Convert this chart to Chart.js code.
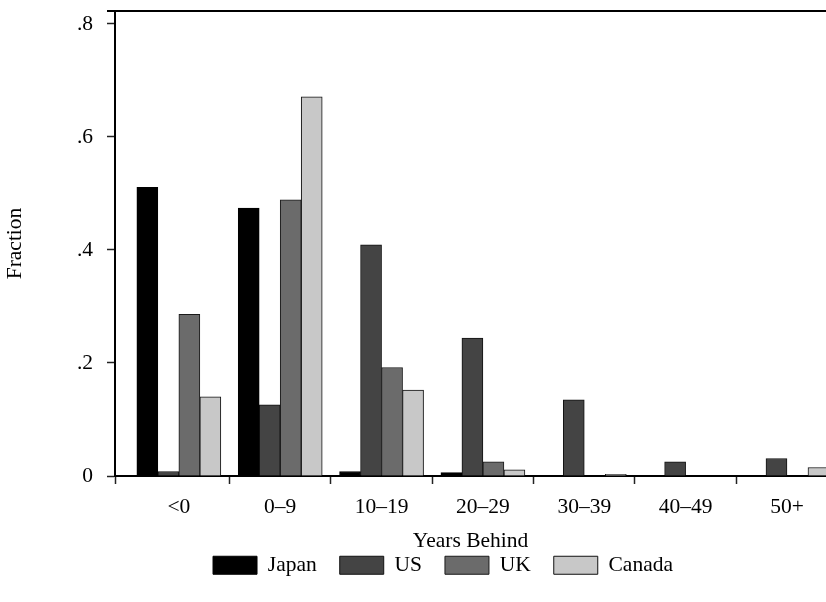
<!DOCTYPE html>
<html>
<head>
<meta charset="utf-8">
<script src="https://cdn.jsdelivr.net/npm/chart.js@4/dist/chart.umd.min.js"></script>
<style>
  html, body { margin: 0; padding: 0; background: #fff; overflow: hidden; }
  #c { display: block; }
</style>
</head>
<body>
<canvas id="c" width="826" height="602" style="width:826px;height:602px"></canvas>
<script>
// ---- data ----
const categories = ['<0', '0\u20139', '10\u201319', '20\u201329', '30\u201339', '40\u201349', '50+'];
const japan  = [0.511, 0.474, 0.008, 0.006, 0,     0,     0];
const us     = [0.008, 0.126, 0.409, 0.244, 0.135, 0.025, 0.031];
const uk     = [0.286, 0.489, 0.192, 0.025, 0,     0,     0];
const canada = [0.140, 0.671, 0.152, 0.011, 0.003, 0,     0.015];
const yTickValues = [0, 0.2, 0.4, 0.6, 0.8];
const yTickLabels = ['0', '.2', '.4', '.6', '.8'];
const xBoundaries = [0.5, 1.5, 2.5, 3.5, 4.5, 5.5];

const FONT = 'Liberation Serif';
const X_MIN = -0.63, X_MAX = 6.385;

function pts(arr) { return arr.map((v, i) => ({ x: i, y: v })); }

const topLine = {
  id: 'topLine',
  afterLayout(chart) {
    if (chart.legend) { chart.legend.left += 30; chart.legend.right += 30; }
  },
  afterDraw(chart) {
    const { ctx, chartArea } = chart;
    ctx.save();
    ctx.strokeStyle = '#000';
    ctx.lineWidth = 2;
    ctx.beginPath();
    ctx.moveTo(chartArea.left - 8, chartArea.top);
    ctx.lineTo(chart.width, chartArea.top);
    ctx.stroke();
    ctx.restore();
  }
};

const common = { borderWidth: 1, barThickness: 21, borderSkipped: 'start' };

new Chart(document.getElementById('c'), {
  type: 'bar',
  data: {
    datasets: [
      { label: 'Japan',  data: pts(japan),  backgroundColor: '#000000', borderColor: '#000000', ...common },
      { label: 'US',     data: pts(us),     backgroundColor: '#444444', borderColor: '#111111', ...common },
      { label: 'UK',     data: pts(uk),     backgroundColor: '#6b6b6b', borderColor: '#1a1a1a', ...common },
      { label: 'Canada', data: pts(canada), backgroundColor: '#c8c8c8', borderColor: '#111111', ...common }
    ]
  },
  options: {
    responsive: false,
    animation: false,
    devicePixelRatio: 1,
    layout: { padding: { top: 11, right: 0, left: 0, bottom: 16 } },
    plugins: {
      legend: {
        position: 'bottom',
        labels: {
          font: { family: FONT, size: 21.5 },
          color: '#000',
          boxWidth: 44,
          boxHeight: 18,
          padding: 23
        }
      },
      tooltip: { enabled: false }
    },
    scales: {
      x: {
        type: 'linear',
        min: X_MIN,
        max: X_MAX,
        offset: false,
        afterBuildTicks(scale) {
          const vals = [X_MIN];
          categories.forEach((c, i) => { vals.push(i); if (i < xBoundaries.length) vals.push(xBoundaries[i]); });
          scale.ticks = vals.map(v => ({ value: v }));
        },
        afterFit(scale) { scale.height = 55.5; scale.paddingLeft = 0; scale.paddingRight = 0; },
        ticks: {
          autoSkip: false,
          maxRotation: 0,
          padding: 10,
          color: '#000',
          font: { family: FONT, size: 21.5 },
          callback(value) { return Number.isInteger(value) ? categories[value] : ''; }
        },
        grid: {
          offset: false,
          drawOnChartArea: false,
          drawTicks: true,
          tickLength: 8,
          tickWidth: 1.5,
          tickColor(ctx) { return (ctx.tick && Number.isInteger(ctx.tick.value)) ? 'rgba(0,0,0,0)' : '#222'; }
        },
        border: { display: true, color: '#000', width: 2 },
        title: {
          display: true,
          text: 'Years Behind',
          color: '#000',
          font: { family: FONT, size: 21.5 },
          padding: { top: 0, bottom: -23 }
        }
      },
      y: {
        min: 0,
        max: 0.823,
        afterBuildTicks(scale) { scale.ticks = yTickValues.map(v => ({ value: v })); },
        afterFit(scale) { scale.width = 115; scale.paddingTop = 0; scale.paddingBottom = 0; },
        ticks: {
          padding: 14,
          color: '#000',
          font: { family: FONT, size: 21.5 },
          callback(value, index) { return yTickLabels[index]; }
        },
        grid: {
          drawOnChartArea: false,
          drawTicks: true,
          tickLength: 8,
          tickWidth: 1.5,
          tickColor: '#222'
        },
        border: { display: true, color: '#000', width: 2 },
        title: {
          display: true,
          text: 'Fraction',
          color: '#000',
          font: { family: FONT, size: 21.5 },
          padding: { top: 2, bottom: 0 }
        }
      }
    }
  },
  plugins: [topLine]
});
</script>
</body>
</html>
